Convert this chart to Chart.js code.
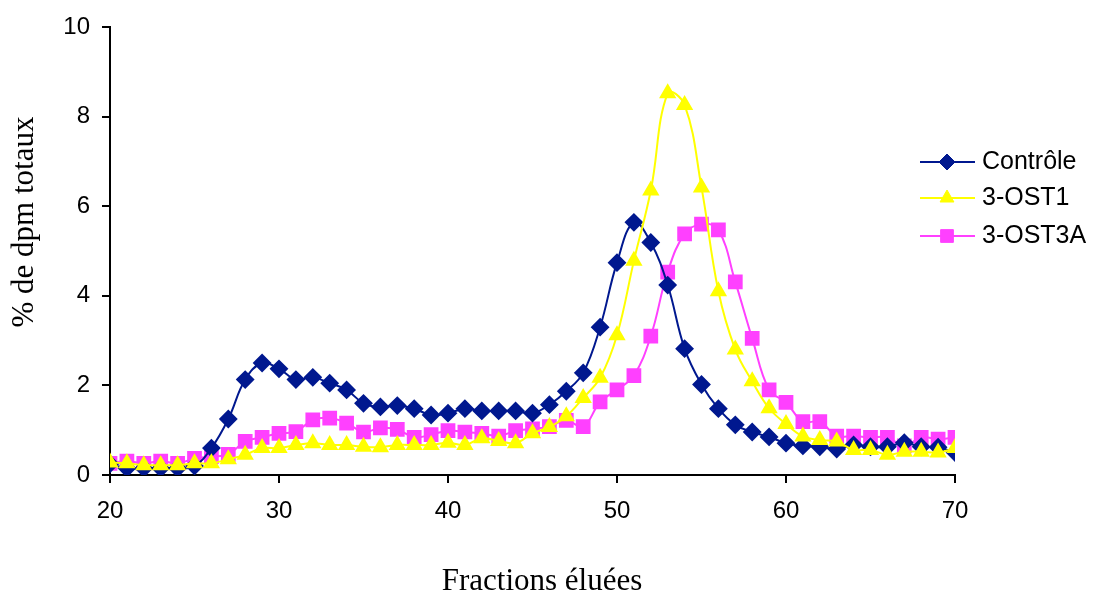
<!DOCTYPE html>
<html>
<head>
<meta charset="utf-8">
<script src="https://cdn.jsdelivr.net/npm/chart.js@4.4.1/dist/chart.umd.min.js"></script>
<style>
	html, body { margin: 0; padding: 0; background: #fff; }
	#wrap { width: 1100px; height: 593px; position: relative; }
</style>
</head>
<body>
<div id="wrap"><canvas id="elution-chart"></canvas></div>
<script>
// fractions éluées (axe x)
const fractions = [20, 21, 22, 23, 24, 25, 26, 27, 28, 29, 30, 31, 32, 33, 34, 35, 36, 37, 38, 39,
	40, 41, 42, 43, 44, 45, 46, 47, 48, 49, 50, 51, 52, 53, 54, 55, 56, 57, 58, 59,
	60, 61, 62, 63, 64, 65, 66, 67, 68, 69, 70];

const controle = [0.25, 0.15, 0.15, 0.15, 0.15, 0.2, 0.6, 1.25, 2.13, 2.5, 2.37, 2.13, 2.18, 2.05, 1.9, 1.6, 1.52, 1.55, 1.48, 1.34,
	1.38, 1.48, 1.43, 1.43, 1.43, 1.38, 1.57, 1.87, 2.28, 3.3, 4.74, 5.64, 5.19, 4.24, 2.82, 2.02, 1.48, 1.12, 0.96, 0.85,
	0.71, 0.65, 0.63, 0.58, 0.67, 0.63, 0.63, 0.72, 0.63, 0.62, 0.5];

const ost1 = [0.28, 0.26, 0.22, 0.22, 0.22, 0.26, 0.26, 0.35, 0.45, 0.6, 0.6, 0.67, 0.71, 0.67, 0.67, 0.63, 0.62, 0.67, 0.67, 0.67,
	0.72, 0.67, 0.82, 0.76, 0.71, 0.93, 1.07, 1.31, 1.72, 2.17, 3.12, 4.78, 6.35, 8.52, 8.26, 6.42, 4.1, 2.8, 2.09, 1.49,
	1.14, 0.86, 0.78, 0.75, 0.56, 0.56, 0.45, 0.52, 0.52, 0.5, 0.6];

const ost3a = [0.26, 0.31, 0.26, 0.31, 0.26, 0.37, 0.41, 0.46, 0.75, 0.84, 0.93, 0.97, 1.23, 1.27, 1.16, 0.96, 1.05, 1.02, 0.84, 0.9,
	0.99, 0.96, 0.93, 0.87, 0.99, 1.03, 1.08, 1.22, 1.08, 1.63, 1.9, 2.22, 3.1, 4.53, 5.38, 5.6, 5.47, 4.31, 3.05, 1.9,
	1.62, 1.19, 1.19, 0.87, 0.87, 0.84, 0.84, 0.65, 0.84, 0.8, 0.84];

const seriesNames = ['Contrôle', '3-OST1', '3-OST3A'];
const xTicks = [20, 30, 40, 50, 60, 70];
const yTicks = [0, 2, 4, 6, 8, 10];

const toPoints = (vals) => vals.map((v, i) => ({ x: fractions[i], y: v }));

const sansFont = "'Liberation Sans', Arial, sans-serif";
const serifFont = "'Liberation Serif', 'Times New Roman', serif";

// légende + titres des axes dessinés à la main pour coller à la mise en page Excel
const decorPlugin = {
	id: 'excelDecor',
	afterDraw(chart) {
		const ctx = chart.ctx;
		const rows = [162, 198, 236];
		chart.data.datasets.forEach((ds, i) => {
			const y = rows[i];
			ctx.save();
			ctx.strokeStyle = ds.borderColor;
			ctx.lineWidth = 2;
			ctx.beginPath();
			ctx.moveTo(920, y);
			ctx.lineTo(975, y);
			ctx.stroke();
			ctx.fillStyle = ds.pointBackgroundColor;
			ctx.strokeStyle = ds.pointBorderColor;
			ctx.lineWidth = 1;
			Chart.helpers.drawPoint(ctx, { pointStyle: ds.pointStyle, radius: ds.pointRadius, rotation: 0, borderWidth: 1 }, 947, y);
			ctx.fillStyle = '#000';
			ctx.font = `25px ${sansFont}`;
			ctx.textBaseline = 'middle';
			ctx.textAlign = 'left';
			ctx.fillText(ds.label, 982, y);
			ctx.restore();
		});

		ctx.save();
		ctx.fillStyle = '#000';
		ctx.font = `31px ${serifFont}`;
		ctx.textAlign = 'center';
		ctx.textBaseline = 'alphabetic';
		ctx.fillText('Fractions éluées', 542, 590);
		ctx.translate(33, 222);
		ctx.rotate(-Math.PI / 2);
		ctx.fillText('% de dpm totaux', 0, 0);
		ctx.restore();
	}
};

function createElutionChart() {
	const ctx = document.getElementById('elution-chart').getContext('2d');
	new Chart(ctx, {
		type: 'line',
		data: {
			datasets: [{
				label: seriesNames[0],
				data: toPoints(controle),
				borderColor: '#00188F',
				backgroundColor: '#00188F',
				pointBackgroundColor: '#00188F',
				pointBorderColor: '#00188F',
				pointStyle: 'rectRot',
				pointRadius: 8,
				borderWidth: 2,
				tension: 0.4,
				order: 1
			}, {
				label: seriesNames[1],
				data: toPoints(ost1),
				borderColor: '#FFFF00',
				backgroundColor: '#FFFF00',
				pointBackgroundColor: '#FFFF00',
				pointBorderColor: '#FFFF00',
				pointStyle: 'triangle',
				pointRadius: 8,
				borderWidth: 2,
				tension: 0.4,
				order: 0
			}, {
				label: seriesNames[2],
				data: toPoints(ost3a),
				borderColor: '#FF40FF',
				backgroundColor: '#FF40FF',
				pointBackgroundColor: '#FF40FF',
				pointBorderColor: '#FF40FF',
				pointStyle: 'rect',
				pointRadius: 9,
				borderWidth: 2,
				tension: 0.4,
				order: 2
			}]
		},
		options: {
			responsive: false,
			animation: false,
			devicePixelRatio: 1,
			layout: { padding: { top: 27, right: 145, bottom: 0, left: 0 } },
			plugins: {
				legend: { display: false },
				tooltip: { enabled: false }
			},
			scales: {
				x: {
					type: 'linear',
					min: 20,
					max: 70,
					afterFit: (s) => { s.height = 118; },
					afterBuildTicks: (s) => { s.ticks = xTicks.map(v => ({ value: v })); },
					ticks: { color: '#000', font: { family: sansFont, size: 24 }, padding: 14, maxRotation: 0 },
					grid: { drawOnChartArea: false, drawTicks: true, tickLength: 8, color: '#000', lineWidth: 2 },
					border: { color: '#000', width: 2 }
				},
				y: {
					min: 0,
					max: 10,
					afterFit: (s) => { s.width = 110; },
					afterBuildTicks: (s) => { s.ticks = yTicks.map(v => ({ value: v })); },
					ticks: { color: '#000', font: { family: sansFont, size: 24 }, padding: 12 },
					grid: { drawOnChartArea: false, drawTicks: true, tickLength: 8, color: '#000', lineWidth: 2 },
					border: { color: '#000', width: 2 }
				}
			}
		},
		plugins: [decorPlugin]
	});
}

window.onload = () => {
	const c = document.getElementById('elution-chart');
	c.width = 1100;
	c.height = 593;
	createElutionChart();
};
</script>
</body>
</html>
